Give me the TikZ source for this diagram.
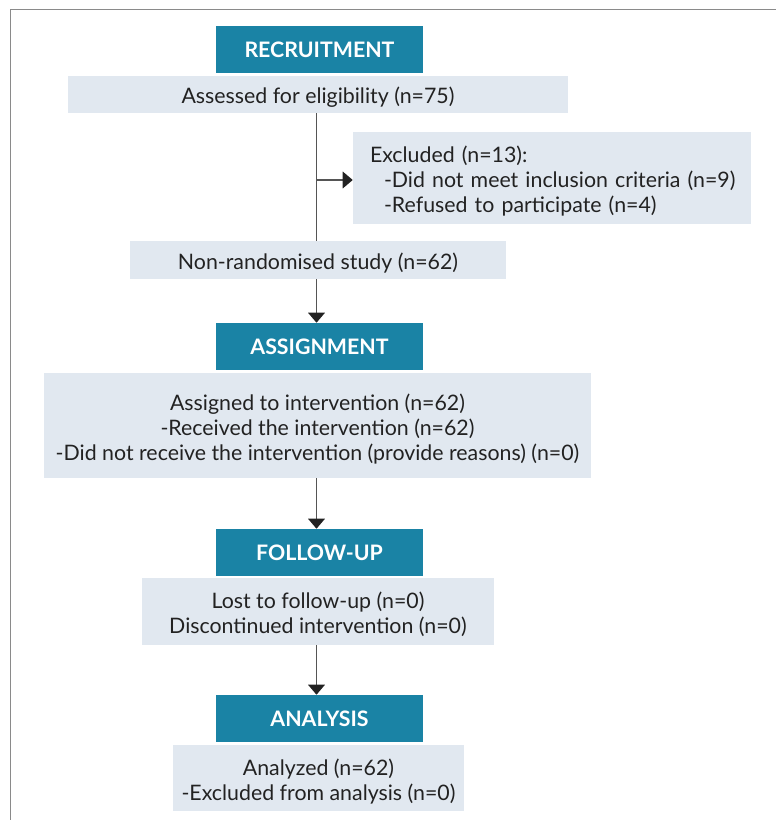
\documentclass[tikz,border=0pt]{standalone}
\usepackage{fontspec}
\setmainfont{Lato}
\usetikzlibrary{arrows.meta}
\definecolor{teal}{HTML}{1A83A5}
\definecolor{boxbg}{HTML}{E1E8F0}
\definecolor{txt}{HTML}{222222}
\definecolor{linec}{HTML}{555555}
\definecolor{framec}{HTML}{8A8A8A}
\newcommand{\topstrut}{\rule{0pt}{17pt}}
\tikzset{
  header/.style={fill=teal, text=white, inner sep=0pt, minimum width=207*0.75pt, minimum height=47*0.75pt,
    font=\fontsize{16}{18}\selectfont\bfseries},
  info/.style={fill=boxbg, text=txt, inner sep=0pt, align=center,
    font=\fontsize{16}{18.75}\selectfont},
  conn/.style={draw=linec, line width=1pt},
  arr/.style={conn, -{Triangle[width=12.5pt,length=7.5pt]}, arrows={[color=txt]}},
}
\begin{document}
\begin{tikzpicture}[x=0.75pt,y=-0.75pt]
\useasboundingbox (0,0) rectangle (776,820);
\draw[framec, line width=1.1pt] (10.5,820) -- (10.5,9.5) -- (776,9.5);
\coordinate (spine) at (316.5,0);

\node[header] (rec) at (319.5,49.5) {RECRUITMENT};
\node[info, minimum width=500*0.75pt, minimum height=37*0.75pt] (assess) at (318,94.5) {\topstrut Assessed for eligibility (n=75)};
\node[info, minimum width=398*0.75pt, minimum height=92*0.75pt, align=left, text width=364*0.75pt] (excl) at (552,178)
  {\mbox{\topstrut Excluded (n=13):}\\\mbox{\hspace*{10.5pt}-Did not meet inclusion criteria (n=9)}\\\mbox{\hspace*{10.5pt}-Refused to participate (n=4)}};
\node[info, minimum width=376*0.75pt, minimum height=38*0.75pt] (nonrand) at (318,260) {\topstrut Non-randomised study (n=62)};

\node[header] (assign) at (319.5,346.5) {ASSIGNMENT};
\node[info, minimum width=547*0.75pt, minimum height=105*0.75pt] (assigned) at (317.5,425.5)
  {\topstrut Assigned to intervention (n=62)\\-Received the intervention (n=62)\\-Did not receive the intervention (provide reasons) (n=0)};

\node[header] (follow) at (319.5,552.5) {FOLLOW-UP};
\node[info, minimum width=352*0.75pt, minimum height=67*0.75pt] (lost) at (318,611.5)
  {\topstrut Lost to follow-up (n=0)\\Discontinued intervention (n=0)};

\node[header] (analysis) at (319.5,718.5) {ANALYSIS};
\node[info, minimum width=291*0.75pt, minimum height=66*0.75pt] (analyzed) at (318.5,778)
  {\topstrut Analyzed (n=62)\\-Excluded from analysis (n=0)};

\coordinate (branch) at (316.5,180);
\draw[conn] (assess.south -| spine) -- (nonrand.north -| spine);
\draw[arr] (branch) -- (branch -| excl.west);
\draw[arr] (nonrand.south -| spine) -- (assign.north -| spine);
\draw[arr] (assigned.south -| spine) -- (follow.north -| spine);
\draw[arr] (lost.south -| spine) -- (analysis.north -| spine);
\end{tikzpicture}
\end{document}
